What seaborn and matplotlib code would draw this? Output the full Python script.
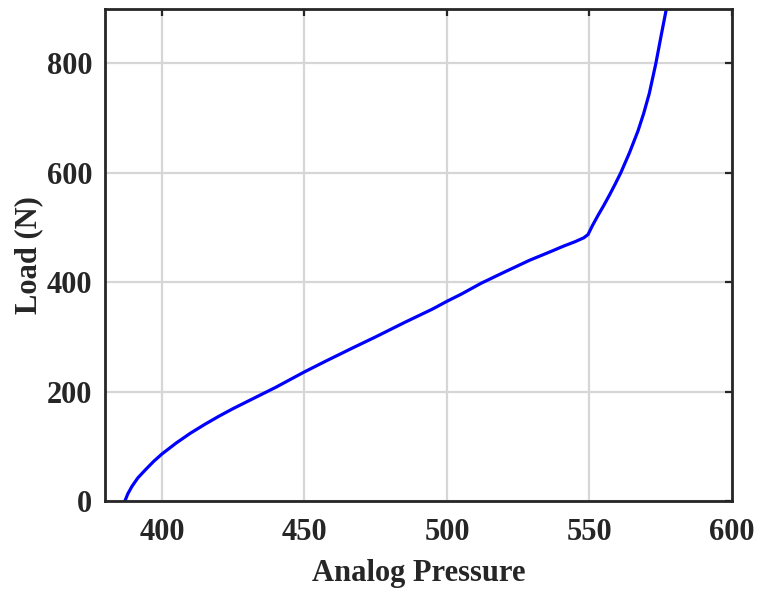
import matplotlib
matplotlib.use("Agg")
import matplotlib.pyplot as plt
import seaborn as sns
import pandas as pd

pressure = [387.0, 388.0, 389.5, 391.5, 394, 397, 400, 405, 410, 415, 420, 425, 430,
            435, 440, 445, 450, 458, 467, 475, 485, 495, 500, 505, 512, 520, 529, 536,
            541, 545, 548, 549.5, 551, 553, 555, 557, 559, 561, 564, 567, 569, 571,
            573.3, 575.2, 577]
load = [0, 13, 27, 42, 56, 72, 86, 106, 124, 140, 155, 169, 182, 195, 208, 222, 236,
        257, 280, 300, 326, 351, 365, 378, 398, 418, 440, 455, 466, 474, 481, 487, 503,
        522, 540, 559, 579, 600, 636, 676, 708, 745, 800, 852, 900]
xticks = [400, 450, 500, 550, 600]
yticks = [0, 200, 400, 600, 800]

df = pd.DataFrame({"Analog Pressure": pressure, "Load (N)": load})

sns.set_style("white")
plt.rcParams["font.family"] = ["Liberation Serif", "DejaVu Serif"]
plt.rcParams["font.weight"] = "bold"

fig = plt.figure(figsize=(7.59, 5.92), dpi=100)
ax = fig.add_axes([0.1383, 0.1537, 0.9644 - 0.1383, 0.9856 - 0.1537])

sns.lineplot(data=df, x="Analog Pressure", y="Load (N)", sort=False, estimator=None,
             color="#0000ff", linewidth=2.3, ax=ax)

ax.set_xlim(380, 600)
ax.set_ylim(0, 900)
ax.set_xticks(xticks)
ax.set_yticks(yticks)
ax.grid(True, color="#d6d6d6", linewidth=1.6)
ax.set_axisbelow(True)
for s in ax.spines.values():
    s.set_color("#262626")
    s.set_linewidth(2.0)
ax.tick_params(direction="in", length=5, width=1.6, color="#262626",
               top=True, right=True, labelsize=22, labelcolor="#262626")
ax.tick_params(axis="y", pad=9)
ax.tick_params(axis="x", pad=12)
for lab in ax.get_xticklabels() + ax.get_yticklabels():
    lab.set_fontweight("bold")
ax.set_xlabel("Analog Pressure", fontsize=22, fontweight="bold", color="#262626", labelpad=9)
ax.set_ylabel("Load (N)", fontsize=22, fontweight="bold", color="#262626", labelpad=3)

fig.savefig("out.png", dpi=100)
